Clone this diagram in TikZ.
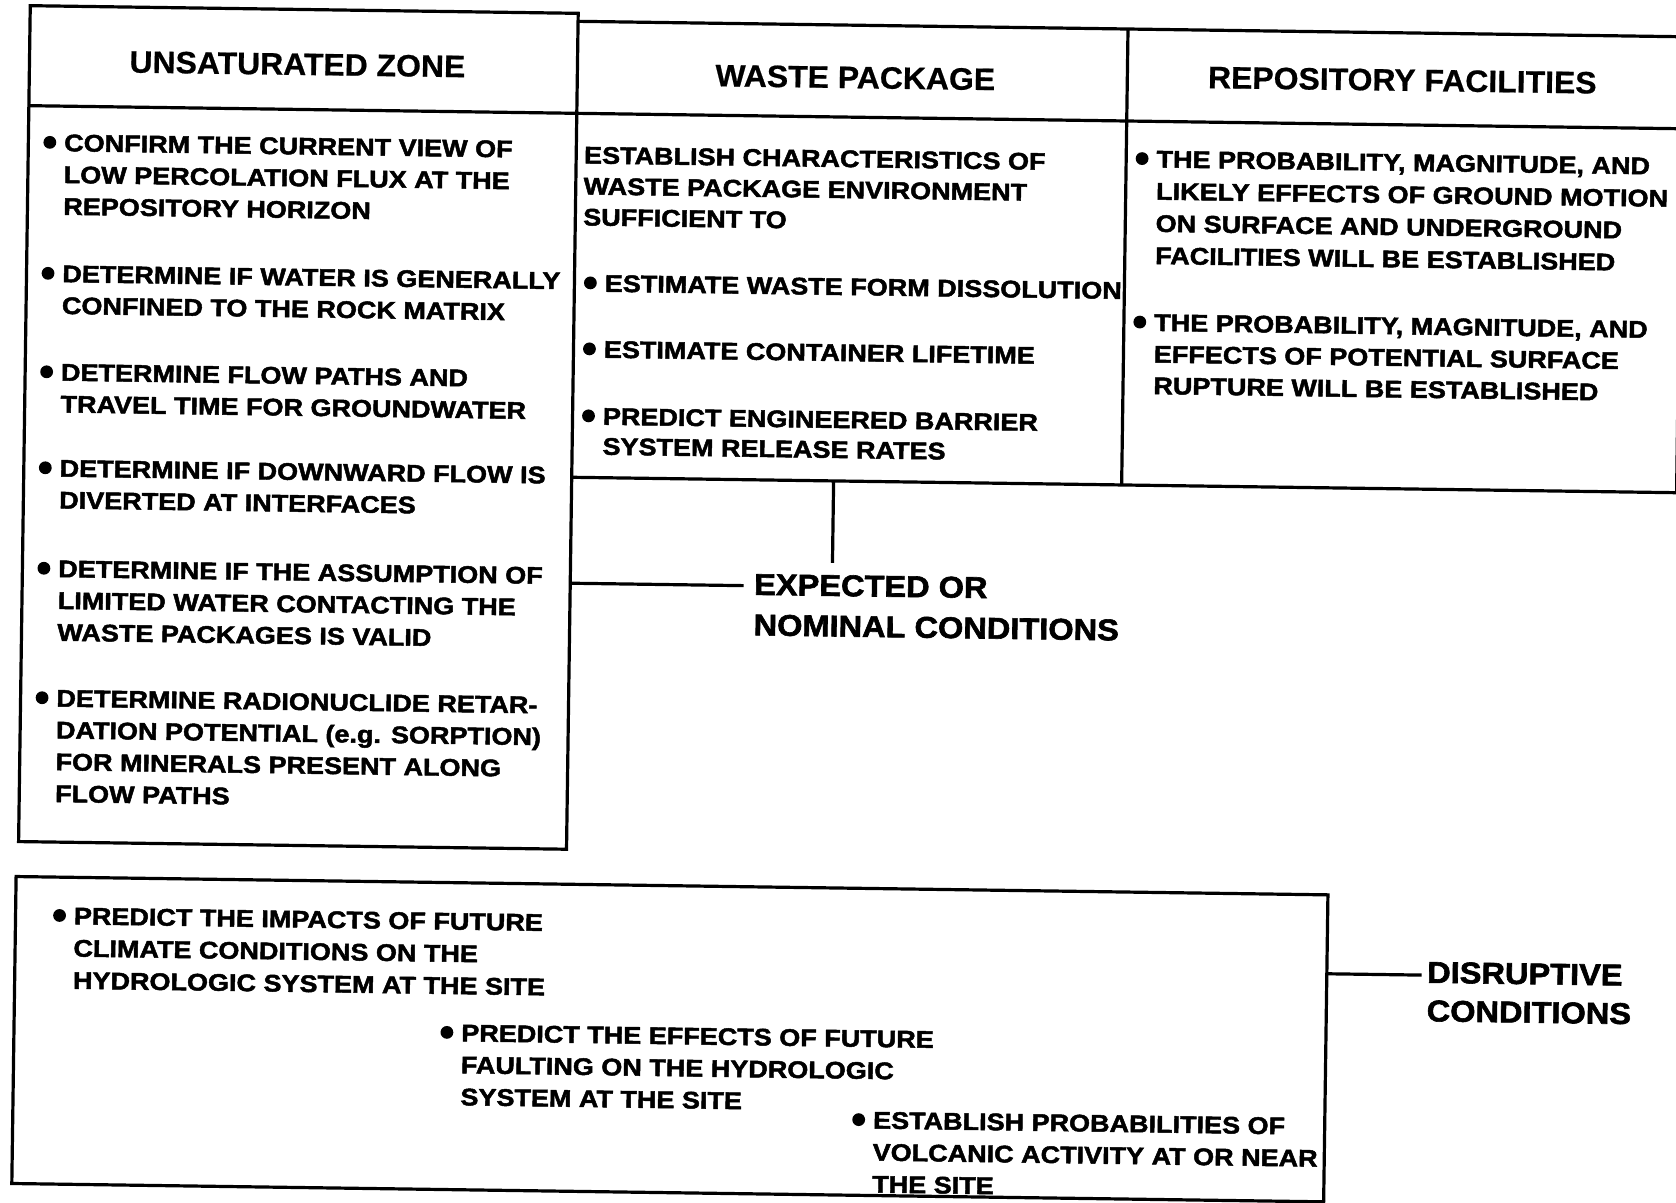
\documentclass[tikz,border=0pt]{standalone}
\usepackage{fontspec}
\setmainfont{Liberation Sans}
\newfontfamily\bodyfont{Liberation Sans Bold}[FakeStretch=1.125,FakeBold=2]
\newfontfamily\headfont{Liberation Sans Bold}[FakeStretch=1.03,FakeBold=0.6]
\newfontfamily\labelfont{Liberation Sans Bold}[FakeStretch=1.085,FakeBold=2]

% one text block: [line skip] name, x, baseline y, lines
\newcommand\blk[5][15.9]{%
  \node[txt,font={\bodyfont\fontsize{12}{#1}\selectfont}] (#2) at (#3,#4)
    {\begin{tabular}[t]{@{}l@{}}#5\end{tabular}};}
% round bullet in front of a block
\newcommand\bul[1]{\fill ([xshift=-7pt,yshift=4.3pt]#1.base west) circle[radius=3.2pt];}

\tikzset{
  txt/.style={anchor=base west, inner sep=0pt},
  head/.style={anchor=base, inner sep=0pt, font={\headfont\fontsize{15.5}{18}\selectfont}},
  lab/.style={anchor=base west, inner sep=0pt},
  frame/.style={line width=1.6pt},
}

\begin{document}
\begin{tikzpicture}[x=0.5pt,y=-0.5pt]
\useasboundingbox (0,0) rectangle (1676,1203);
\begin{scope}[rotate around={-0.8:(838,601)}, transform shape]

% ---- boxes ----
\draw[frame] (22,17) rectangle (570,853);
\draw[frame] (22,117) -- (570,117);
\draw[frame] (570,25) -- (1675,25) -- (1675,481) -- (570,481);
\draw[frame] (570,117) -- (1675,117);
\draw[frame] (1120,25) -- (1120,481);
\draw[frame] (20,888) rectangle (1332,1195);

% ---- column headings ----
\node[head] (hUZ) at (290,82.5) {UNSATURATED ZONE};
\node[head] (hWP) at (848,88) {WASTE PACKAGE};
\node[head] (hRF) at (1395,83) {REPOSITORY FACILITIES};

% ---- unsaturated zone ----
\blk{uz1}{57.5}{162}{CONFIRM THE CURRENT VIEW OF\\LOW PERCOLATION FLUX AT THE\\REPOSITORY HORIZON}
\blk{uz2}{57.5}{293}{DETERMINE IF WATER IS GENERALLY\\CONFINED TO THE ROCK MATRIX}
\blk{uz3}{57.5}{391.5}{DETERMINE FLOW PATHS AND\\TRAVEL TIME FOR GROUNDWATER}
\blk{uz4}{57.5}{487.5}{DETERMINE IF DOWNWARD FLOW IS\\DIVERTED AT INTERFACES}
\blk{uz5}{57.5}{588}{DETERMINE IF THE ASSUMPTION OF\\LIMITED WATER CONTACTING THE\\WASTE PACKAGES IS VALID}
\blk{uz6}{57.5}{717.5}{DETERMINE RADIONUCLIDE RETAR-\\DATION POTENTIAL (e.g. SORPTION)\\FOR MINERALS PRESENT ALONG\\FLOW PATHS}
\foreach \n in {uz1,uz2,uz3,uz4,uz5,uz6} {\bul{\n}}

% ---- waste package ----
\blk[15.5]{wp0}{577.5}{167}{ESTABLISH CHARACTERISTICS OF\\WASTE PACKAGE ENVIRONMENT\\SUFFICIENT TO}
\blk{wp1}{600}{295}{ESTIMATE WASTE FORM DISSOLUTION}
\blk{wp2}{600}{361}{ESTIMATE CONTAINER LIFETIME}
\blk[15]{wp3}{600}{428}{PREDICT ENGINEERED BARRIER\\SYSTEM RELEASE RATES}
\foreach \n in {wp1,wp2,wp3} {\bul{\n}}

% ---- repository facilities ----
\blk[16.1]{rf1}{1150}{163}{THE PROBABILITY, MAGNITUDE, AND\\LIKELY EFFECTS OF GROUND MOTION\\ON SURFACE AND UNDERGROUND\\FACILITIES WILL BE ESTABLISHED}
\blk[15.8]{rf2}{1150}{326.5}{THE PROBABILITY, MAGNITUDE, AND\\EFFECTS OF POTENTIAL SURFACE\\RUPTURE WILL BE ESTABLISHED}
\foreach \n in {rf1,rf2} {\bul{\n}}

% ---- disruptive conditions box ----
\blk[16.1]{d1}{78}{935}{PREDICT THE IMPACTS OF FUTURE\\CLIMATE CONDITIONS ON THE\\HYDROLOGIC SYSTEM AT THE SITE}
\blk[16]{d2}{467}{1046.5}{PREDICT THE EFFECTS OF FUTURE\\FAULTING ON THE HYDROLOGIC\\SYSTEM AT THE SITE}
\blk[16]{d3}{880}{1128}{ESTABLISH PROBABILITIES OF\\VOLCANIC ACTIVITY AT OR NEAR\\THE SITE}
\foreach \n in {d1,d2,d3} {\bul{\n}}

% ---- condition labels ----
\node[lab, font={\labelfont\fontsize{15}{20.25}\selectfont}] (exp) at (753.6,596)
  {\begin{tabular}[t]{@{}l@{}}EXPECTED OR\\NOMINAL CONDITIONS\end{tabular}};
\node[lab, font={\labelfont\fontsize{15}{19.25}\selectfont}] (dis) at (1432,974.5)
  {\begin{tabular}[t]{@{}l@{}}DISRUPTIVE\\CONDITIONS\end{tabular}};

% ---- connectors ----
\coordinate (wpB) at (832,481);
\coordinate (uzR) at (570,587);
\coordinate (bxR) at (1332,967);
\coordinate (expTop) at ([yshift=16.5pt]exp.base west);
\coordinate (expLeft) at ([xshift=-5pt]exp.base west);
\coordinate (disLeft) at ([xshift=-2.5pt]dis.base west);
\draw[frame] (wpB) -- (wpB |- expTop);
\draw[frame] (uzR) -- (uzR -| expLeft);
\draw[frame] (bxR) -- (bxR -| disLeft);

\end{scope}
\end{tikzpicture}
\end{document}
